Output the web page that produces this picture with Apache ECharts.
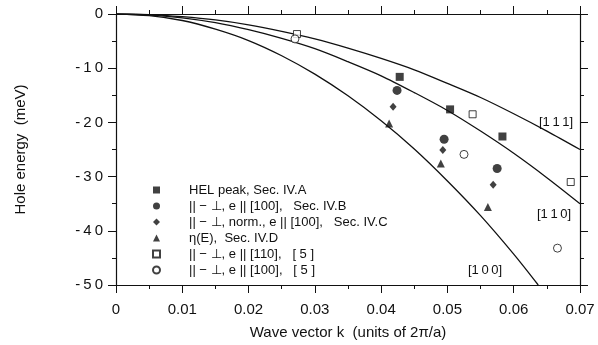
<!DOCTYPE html>
<html>
<head>
<meta charset="utf-8">
<script src="https://cdn.jsdelivr.net/npm/echarts@6/dist/echarts.min.js"></script>
<style>
  html, body { margin: 0; padding: 0; background: #fff; }
  #chart { width: 598px; height: 345px; }
</style>
</head>
<body>
<div id="chart"></div>
<script>
// wave vector grid (units of 2pi/a) and band curves
const kGrid = [0, 0.005, 0.01, 0.015, 0.02, 0.025, 0.03, 0.035, 0.04, 0.045, 0.05, 0.055, 0.06, 0.065, 0.07];
const band111 = [0, -0.1, -0.5, -1.1, -2.0, -3.2, -4.6, -6.3, -8.2, -10.3, -12.8, -15.4, -18.4, -21.6, -25.0];
const band110 = [0, -0.2, -0.7, -1.6, -2.9, -4.5, -6.4, -8.8, -11.4, -14.5, -17.8, -21.6, -25.7, -30.2, -35.0];
const k100 = [0, 0.005, 0.01, 0.015, 0.02, 0.025, 0.03, 0.035, 0.04, 0.045, 0.05, 0.055, 0.06, 0.0637];
const band100 = [0, -0.3, -1.2, -2.8, -4.9, -7.7, -11.1, -15.1, -19.7, -24.9, -30.8, -37.2, -44.3, -50.0];

// measured points [k, meV]
const helPeak = [[0.0428, -11.6], [0.0504, -17.6], [0.0583, -22.6]];
const secB = [[0.0424, -14.1], [0.0495, -23.1], [0.0575, -28.5]];
const secC = [[0.0418, -17.1], [0.0493, -25.1], [0.0569, -31.5]];
const etaE = [[0.0412, -20.2], [0.0490, -27.6], [0.0561, -35.6]];
const ref110 = [[0.0273, -3.7], [0.0538, -18.5], [0.0686, -31.0]];
const ref100 = [[0.0270, -4.6], [0.0525, -25.9], [0.0666, -43.2]];

const xTicks = ['0', '0.01', '0.02', '0.03', '0.04', '0.05', '0.06', '0.07'];
const yTicks = { '0': '0', '-10': '-\u20091\u20090', '-20': '-\u20092\u20090', '-30': '-\u20093\u20090', '-40': '-\u20094\u20090', '-50': '-\u20095\u20090' };

const FONT = 'Liberation Sans, Arial, sans-serif';
const ink = '#111';

const pairs = (xs, ys) => xs.map((x, i) => [x, ys[i]]);

const chart = echarts.init(document.getElementById('chart'));

const tickStyle = {
  axisLine: { show: true, onZero: false, lineStyle: { color: ink, width: 1.2 } },
  axisTick: { show: true, inside: false, length: 8, lineStyle: { color: ink, width: 1 } },
  minorTick: { show: true, splitNumber: 2, length: 4, lineStyle: { color: ink, width: 1 } },
  splitLine: { show: false }
};

const curve = (data) => ({
  type: 'line', data, smooth: 0.3, symbol: 'none', silent: true,
  lineStyle: { color: ink, width: 1.3 }, z: 2
});

const pts = (name, data, symbol, size, filled) => ({
  name, type: 'scatter', data, symbol, symbolSize: size, z: 3,
  itemStyle: filled ? { color: ink } : { color: '#fff', borderColor: ink, borderWidth: 1 }
});

chart.setOption({
  backgroundColor: '#fff',
  animation: false,
  grid: { left: 116, right: 18, top: 14, bottom: 55.5 },
  xAxis: [
    Object.assign({
      type: 'value', min: 0, max: 0.07, interval: 0.01,
      name: 'Wave vector k  (units of 2\u03c0/a)', nameLocation: 'middle', nameGap: 40,
      nameTextStyle: { fontFamily: FONT, fontSize: 15, color: ink },
      axisLabel: {
        fontFamily: FONT, fontSize: 15, color: ink, margin: 17,
        formatter: v => xTicks[Math.round(v * 100)] ?? ''
      }
    }, tickStyle),
    Object.assign({
      type: 'value', min: 0, max: 0.07, interval: 0.01, position: 'top',
      axisLabel: { show: false }
    }, tickStyle)
  ],
  yAxis: [
    Object.assign({
      type: 'value', min: -50, max: 0, interval: 10,
      name: 'Hole energy  (meV)', nameLocation: 'middle', nameGap: 88,
      nameTextStyle: { fontFamily: FONT, fontSize: 15, color: ink },
      axisLabel: {
        fontFamily: FONT, fontSize: 15, color: ink, margin: 13,
        formatter: v => yTicks[String(Math.round(v))] ?? ''
      }
    }, tickStyle),
    Object.assign({
      type: 'value', min: -50, max: 0, interval: 10, position: 'right',
      axisLabel: { show: false }
    }, tickStyle)
  ],
  legend: {
    orient: 'vertical', left: 147, top: 178,
    itemWidth: 7, itemHeight: 7, itemGap: 2,
    textStyle: { fontFamily: FONT, fontSize: 13, color: ink, lineHeight: 14, padding: [0, 0, 0, 24] },
    data: [
      'HEL peak, Sec. IV.A',
      '|| \u2212 \u22a5, e || [100],   Sec. IV.B',
      '|| \u2212 \u22a5, norm., e || [100],   Sec. IV.C',
      '\u03b7(E),  Sec. IV.D',
      '|| \u2212 \u22a5, e || [110],   [ 5 ]',
      '|| \u2212 \u22a5, e || [100],   [ 5 ] '
    ]
  },
  graphic: [
    { type: 'text', left: 539, top: 116, style: { text: '[1\u20091\u20091]', font: '13px ' + FONT, fill: ink } },
    { type: 'text', left: 537, top: 208, style: { text: '[1\u20091\u20090]', font: '13px ' + FONT, fill: ink } },
    { type: 'text', left: 468, top: 264, style: { text: '[1\u20090\u20090]', font: '13px ' + FONT, fill: ink } }
  ],
  series: [
    curve(pairs(kGrid, band111)),
    curve(pairs(kGrid, band110)),
    curve(pairs(k100, band100)),
    pts('HEL peak, Sec. IV.A', helPeak, 'rect', 8, true),
    pts('|| \u2212 \u22a5, e || [100],   Sec. IV.B', secB, 'circle', 9, true),
    pts('|| \u2212 \u22a5, norm., e || [100],   Sec. IV.C', secC, 'diamond', [7, 8], true),
    pts('\u03b7(E),  Sec. IV.D', etaE, 'triangle', 8, true),
    pts('|| \u2212 \u22a5, e || [110],   [ 5 ]', ref110, 'rect', 7, false),
    pts('|| \u2212 \u22a5, e || [100],   [ 5 ] ', ref100, 'circle', 8, false)
  ]
});
</script>
</body>
</html>
